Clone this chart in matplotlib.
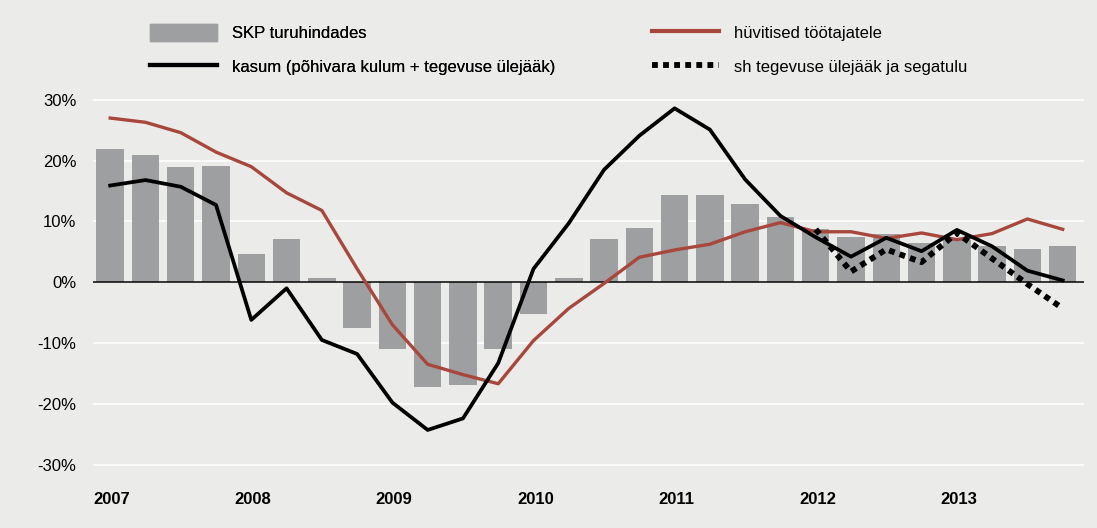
import matplotlib.pyplot as plt
from matplotlib.lines import Line2D
from matplotlib.patches import Patch

plt.rcParams['font.family'] = ['Liberation Sans', 'DejaVu Sans']

# quarters 2007Q1 .. 2013Q4
years = ['2007', '2008', '2009', '2010', '2011', '2012', '2013']

skp = [21.9, 20.9, 18.9, 19.1, 4.7, 7.1, 0.7, -7.5,
       -11.0, -17.2, -16.9, -11.0, -5.2, 0.7, 7.1, 8.9,
       14.4, 14.4, 12.9, 10.7, 8.7, 7.5, 7.9, 6.5,
       6.9, 6.0, 5.4, 6.0]

huvitised = [27.0, 26.3, 24.6, 21.4, 19.0, 14.7, 11.8, 2.2,
             -7.0, -13.5, -15.2, -16.7, -9.6, -4.3, -0.2, 4.1,
             5.3, 6.25, 8.3, 9.8, 8.3, 8.3, 7.2, 8.1,
             7.0, 8.0, 10.4, 8.7]

kasum = [15.9, 16.8, 15.7, 12.7, -6.2, -1.0, -9.5, -11.8,
         -19.8, -24.3, -22.4, -13.3, 2.2, 9.7, 18.5, 24.1,
         28.6, 25.1, 16.9, 10.9, 7.4, 4.2, 7.3, 5.1,
         8.6, 5.9, 1.9, 0.3]

# only from 2012Q1
tegevus_start = 20
tegevus = [8.7, 1.75, 5.4, 3.3, 8.1, 3.9, -0.3, -4.3]

bg = '#ebecea'
bar_col = '#9e9fa1'
red = '#a8473b'
dots = (0, (1.0, 0.9))

fig = plt.figure(figsize=(10.97, 5.28), dpi=100, facecolor=bg)
ax = fig.add_axes([0.085, 0.097, 0.903, 0.737], facecolor=bg)

x = list(range(len(skp)))
ax.bar(x, skp, width=0.78, color=bar_col, zorder=2)
ax.axhline(0, color='black', lw=1.1, zorder=3)
ax.plot(x, huvitised, color=red, lw=2.4, zorder=4)
ax.plot(x, kasum, color='black', lw=2.7, zorder=5)
xt = list(range(tegevus_start, tegevus_start + len(tegevus)))
ax.plot(xt, tegevus, color='black', lw=4.2, ls=dots,
        dash_capstyle='butt', zorder=5)

ax.set_xlim(-0.48, 27.6)
ax.set_ylim(-32, 32)
ax.set_yticks(range(-30, 31, 10))
ax.set_yticklabels([f'{v}%' for v in range(-30, 31, 10)], fontsize=12)
ax.yaxis.grid(True, color='white', lw=1.2, zorder=0)
ax.tick_params(axis='y', length=0, pad=12)
ax.set_xticks([])
for i, y in enumerate(years):
    ax.text(i * 4 + 0.05, -35.8, y, ha='center', va='center',
            fontsize=12, fontweight='bold', clip_on=False)
for s in ax.spines.values():
    s.set_visible(False)

h1 = [Patch(color=bar_col),
      Line2D([], [], color='black', lw=3.0)]
l1 = ['SKP turuhindades', 'kasum (põhivara kulum + tegevuse ülejääk)']
h2 = [Line2D([], [], color=red, lw=3.0),
      Line2D([], [], color='black', lw=4.2, ls=dots, dash_capstyle='butt')]
l2 = ['hüvitised töötajatele', 'sh tegevuse ülejääk ja segatulu']

kw = dict(loc='upper left', frameon=False, fontsize=12, handlelength=4.0,
          handleheight=1.2, handletextpad=0.9, labelspacing=1.0,
          borderpad=0, borderaxespad=0)
leg1 = fig.legend(h1, l1, bbox_to_anchor=(150 / 1097, 1 - 24 / 528), **kw)
leg2 = fig.legend(h2, l2, bbox_to_anchor=(652 / 1097, 1 - 24 / 528), **kw)
fig.add_artist(leg1)

fig.savefig('out.png', dpi=100, facecolor=bg)
